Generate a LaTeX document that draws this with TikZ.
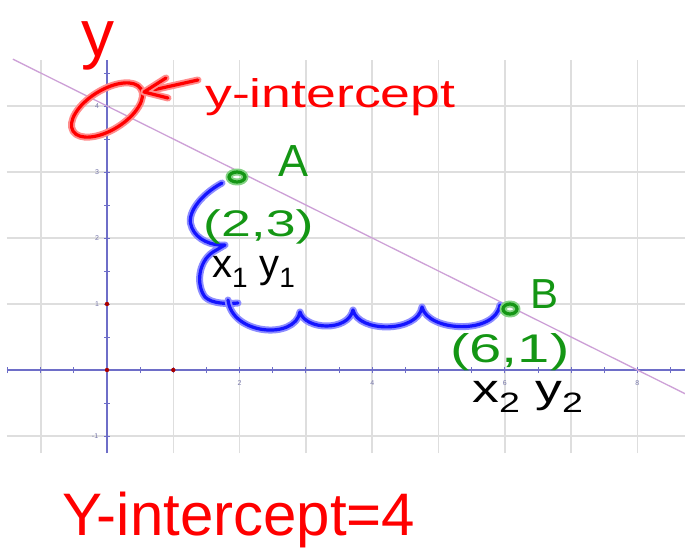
\documentclass[tikz,border=0pt]{standalone}
\usepackage{fontspec}
\setmainfont{Liberation Sans}
\newfontfamily\handW{Liberation Sans}[FakeStretch=1.34]
\newfontfamily\handX{Liberation Sans}[FakeStretch=1.45]
\definecolor{gridc}{RGB}{222,222,222}
\definecolor{axisc}{RGB}{110,110,200}
\definecolor{linec}{RGB}{205,160,215}
\definecolor{penred}{RGB}{255,0,0}
\definecolor{glowred}{RGB}{255,140,140}
\definecolor{pengreen}{RGB}{20,150,20}
\definecolor{glowgreen}{RGB}{130,210,130}
\definecolor{penblue}{RGB}{20,20,255}
\definecolor{glowblue}{RGB}{140,140,255}
\definecolor{penblack}{RGB}{0,0,0}
\definecolor{glowblack}{RGB}{150,150,150}
\definecolor{tickc}{RGB}{120,120,170}
\definecolor{dotc}{RGB}{170,0,0}
\tikzset{
  inkpen/.style={draw=pen#1, line width=3.2pt, line cap=round, line join=round,
    preaction={draw=glow#1, line width=7pt, line cap=round, line join=round}},
  handtext/.style={inner sep=0pt, anchor=base west, text=pen#1},
  gridline/.style={draw=gridc, line width=1.6pt},
  axisline/.style={draw=axisc, line width=1.2pt},
  ticklab/.style={text=tickc, font=\fontsize{7}{7}\selectfont, inner sep=0pt},
  reddot/.style={fill=dotc, draw=none},
}
\begin{document}
\begin{tikzpicture}[x=1pt,y=-1pt]
\useasboundingbox (0,0) rectangle (685,553);
\fill[white] (0,0) rectangle (685,553);
% ---------- graph ----------
\begin{scope}[shift={(107,370)}, x=66.3pt, y=66pt]
  \foreach \i in {-1,...,8} \draw[gridline] (\i,-1.26) -- (\i,4.7);
  \foreach \j in {-1,...,4} \draw[gridline] (-1.51,\j) -- (8.72,\j);
  \draw[axisline] (-1.51,0) -- (8.72,0);
  \draw[axisline] (0,-1.26) -- (0,4.7);
  \foreach \i in {-1.5,-1,...,8.5} \draw[axisline, line width=0.9pt] (\i,0) ++(0,-3pt) -- ++(0,6pt);
  \foreach \j in {-1,-0.5,...,4.5} \draw[axisline, line width=0.9pt] (0,\j) ++(-3pt,0) -- ++(6pt,0);
  \foreach \i in {2,4,6,8} \node[ticklab] (xl\i) at (\i,-0.2) {\i};
  \foreach \j in {1,2,3,4} \node[ticklab] (yl\j) at (-0.15,\j) {\j};
  \node[ticklab] (ylm) at (-0.18,-1) {-1};
  \fill[reddot] (0,0) circle (2.2pt);
  \fill[reddot] (1,0) circle (2.2pt);
  \fill[reddot] (0,1) circle (2.2pt);
  \draw[draw=linec, line width=1.3pt] (-1.42,4.71) -- (8.72,-0.36);
\end{scope}
% ---------- red annotations ----------
\node[handtext=red, text height=36pt, text depth=14pt] (ylab) at (81,57) {\fontsize{66}{66}\selectfont y};
\draw[inkpen=red, rotate around={32:(107,110)}] (107,110) ellipse [x radius=40pt, y radius=20pt];
\coordinate (arrS) at (198,80);
\coordinate (arrT) at (144,92);
\draw[inkpen=red] (arrS) -- (arrT);
\draw[inkpen=red] (166,78) -- (arrT) -- (168,98);
\node[handtext=red] (yint) at (205,108) {\fontsize{40}{40}\handW y-intercept};
\node[handtext=red, text depth=12pt] (ybot) at (62,535) {\fontsize{60}{60}\selectfont Y-intercept=4};
% ---------- blue path ----------
\draw[inkpen=blue] (222,183) .. controls (200,195) and (185,215) .. (192,228)
   .. controls (197,240) and (212,246) .. (225,245) -- (213,252)
   .. controls (198,262) and (196,285) .. (205,297)
   .. controls (212,304) and (228,304) .. (238,303);
\draw[inkpen=blue] (228,300) .. controls (232,335) and (295,340) .. (300,312)
   .. controls (305,330) and (348,332) .. (353,310)
   .. controls (358,333) and (418,333) .. (422,307)
   .. controls (428,332) and (495,335) .. (500,305);
% ---------- green points and labels ----------
\draw[inkpen=green] (237,177) ellipse [x radius=8pt, y radius=5pt];
\draw[inkpen=green] (510,309) ellipse [x radius=7pt, y radius=5pt];
\node[handtext=green] (Alab) at (278,177) {\fontsize{45}{45}\selectfont A};
\node[handtext=green] (Blab) at (530,308) {\fontsize{42}{42}\selectfont B};
\node[handtext=green, text depth=6pt] (pA) at (203,237) {\fontsize{37}{37}\handX (2,3)};
\node[handtext=green, text depth=6pt] (pB) at (450,362) {\fontsize{40}{40}\handX (6,1)};
% ---------- black labels ----------
\node[handtext=black, text height=24pt, text depth=8pt] (xyA) at (212,277) {\fontsize{40}{40}\selectfont x\textsubscript{1} y\textsubscript{1}};
\node[handtext=black, text height=24pt, text depth=8pt] (xyB) at (472,402) {\fontsize{40}{40}\handW x\textsubscript{2} y\textsubscript{2}};
\end{tikzpicture}
\end{document}
